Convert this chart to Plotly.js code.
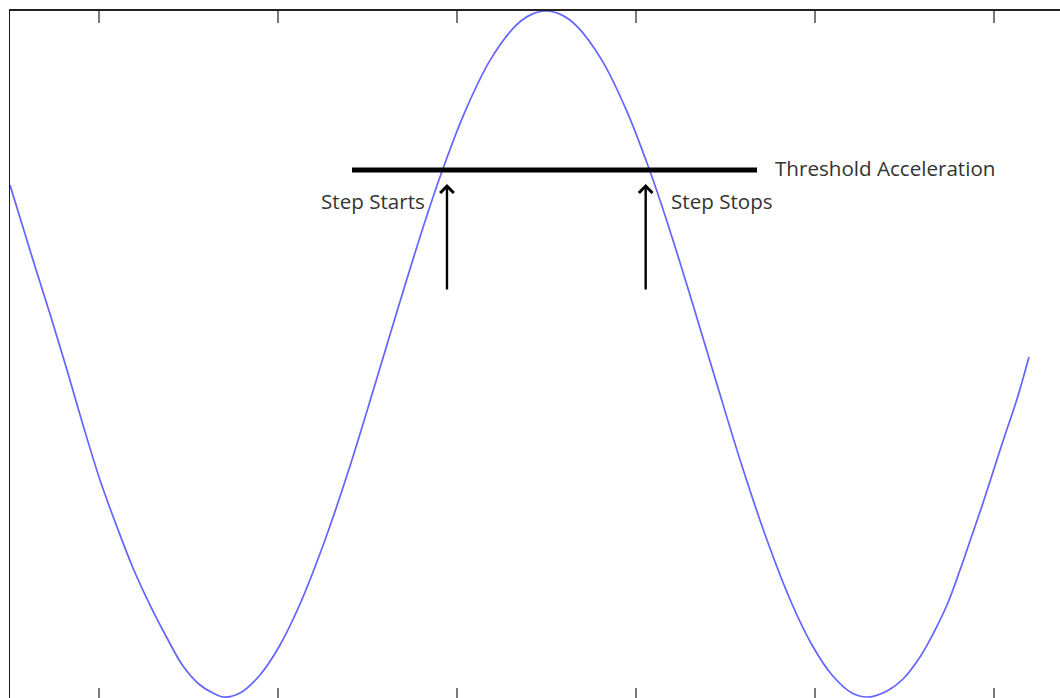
<!DOCTYPE html>
<html>
<head>
<meta charset="utf-8">
<script src="https://cdn.plot.ly/plotly-3.0.1.min.js"></script>
<style>
  html, body { margin: 0; padding: 0; background: #fff; overflow: hidden; }
  #chart { width: 1080px; height: 700px; }
</style>
</head>
<body>
<div id="chart"></div>
<script>
// Acceleration trace over time (arbitrary units)
const timeValues = [
  0.5028, 0.6313, 0.7263, 0.8212, 0.9106, 1.0056, 1.1006, 1.1899, 1.2849, 1.3799,
  1.4693, 1.5642, 1.6369, 1.6983, 1.7877, 1.8994, 2.0112, 2.1229, 2.2626, 2.4022,
  2.5419, 2.6816, 2.8212, 2.9218, 3.0447, 3.1844, 3.3240, 3.4078, 3.4972, 3.5866,
  3.6704, 3.8101, 3.9497, 4.0726, 4.1732, 4.3128, 4.4525, 4.5922, 4.7318, 4.8715,
  4.9832, 5.0950, 5.2067, 5.2961, 5.4022, 5.4916, 5.5866, 5.6592, 5.7374, 5.8101,
  5.8659, 5.9385, 5.9944, 6.0503, 6.1285, 6.1955
];
const accelValues = [
  0.4934, 0.2751, 0.1179, -0.0451, -0.2052, -0.3654, -0.5022, -0.6215, -0.7293, -0.8253,
  -0.9068, -0.9622, -0.9854, -0.9971, -0.9854, -0.9330, -0.8457, -0.7264, -0.5400, -0.3246,
  -0.0873, 0.1543, 0.3875, 0.5415, 0.7071, 0.8562, 0.9552, 0.9880, 1.0000, 0.9880,
  0.9552, 0.8562, 0.7071, 0.5415, 0.3875, 0.1543, -0.0873, -0.3246, -0.5400, -0.7264,
  -0.8457, -0.9330, -0.9854, -0.9971, -0.9796, -0.9447, -0.8806, -0.8137, -0.7293, -0.6274,
  -0.5429, -0.4323, -0.3421, -0.2518, -0.1296, -0.0073
];

// Threshold level and the span over which the threshold bar is drawn
const thresholdLevel = 0.5371;
const thresholdSpan = [2.4134, 4.6760];

// Moments where the step begins and ends
const stepTimes = [2.944, 4.054];
const stepLabels = ['Step Starts', 'Step Stops'];
const thresholdLabel = 'Threshold Acceleration';

const labelFont = { family: '"Open Sans", "Noto Sans", sans-serif', size: 20.6, color: '#333333' };

const traces = [
  {
    x: timeValues,
    y: accelValues,
    type: 'scatter',
    mode: 'lines',
    line: { color: '#6464ff', width: 1.7, shape: 'spline', smoothing: 1 },
    hoverinfo: 'skip'
  },
  {
    x: thresholdSpan,
    y: [thresholdLevel, thresholdLevel],
    type: 'scatter',
    mode: 'lines',
    line: { color: '#000000', width: 5 },
    hoverinfo: 'skip'
  }
];

const annotations = [];
stepTimes.forEach(function (t, i) {
  // arrow pointing up at the threshold crossing
  annotations.push({
    x: t, y: thresholdLevel, xref: 'x', yref: 'y',
    text: '', showarrow: true,
    ax: 0, ay: 121, standoff: 14,
    arrowhead: 4, arrowsize: 1.1, arrowwidth: 2.4, arrowcolor: '#000'
  });
  annotations.push({
    x: t, y: thresholdLevel, xref: 'x', yref: 'y',
    text: stepLabels[i], showarrow: false,
    xanchor: i === 0 ? 'right' : 'left',
    yanchor: 'middle',
    xshift: i === 0 ? -20 : 23,
    yshift: -31,
    font: labelFont
  });
});
annotations.push({
  x: thresholdSpan[1], y: thresholdLevel, xref: 'x', yref: 'y',
  text: thresholdLabel, showarrow: false,
  xanchor: 'left', yanchor: 'middle',
  xshift: 16, yshift: 2,
  font: labelFont
});

const layout = {
  width: 1080,
  height: 700,
  margin: { l: 10, r: 0, t: 11, b: 0, pad: 0 },
  paper_bgcolor: '#ffffff',
  plot_bgcolor: '#ffffff',
  showlegend: false,
  xaxis: {
    range: [0.50279, 6.48045],
    tick0: 0, dtick: 1,
    ticks: 'inside', ticklen: 12, tickwidth: 2, tickcolor: '#7a7a7a',
    showticklabels: false,
    showline: true, linecolor: '#222222', linewidth: 2,
    mirror: 'ticks',
    showgrid: false, zeroline: false, fixedrange: true
  },
  yaxis: {
    range: [-1.00582, 1.0],
    ticks: '', showticklabels: false,
    showline: true, linecolor: '#1a1a1a', linewidth: 1.5,
    mirror: false,
    showgrid: false, zeroline: false, fixedrange: true
  },
  annotations: annotations
};

Plotly.newPlot('chart', traces, layout, { staticPlot: true, displayModeBar: false });
</script>
</body>
</html>
